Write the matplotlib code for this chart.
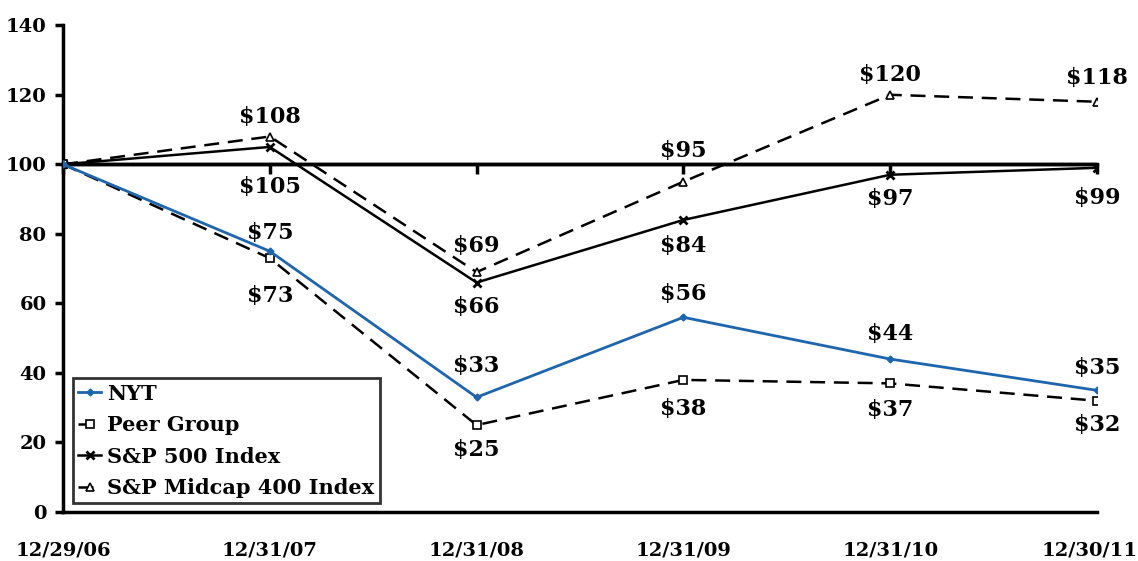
import matplotlib
matplotlib.use("Agg")
import matplotlib.pyplot as plt
from matplotlib.transforms import ScaledTranslation

plt.rcParams["font.family"] = ["DejaVu Serif"]
plt.rcParams["font.weight"] = "bold"

dates = ["12/29/06", "12/31/07", "12/31/08", "12/31/09", "12/31/10", "12/30/11"]
nyt = [100, 75, 33, 56, 44, 35]
peer = [100, 73, 25, 38, 37, 32]
sp500 = [100, 105, 66, 84, 97, 99]
midcap = [100, 108, 69, 95, 120, 118]

# label offsets in pixels (None = no label on the base point)
nyt_off = [None, 18, 31, 23, 25, 22]
peer_off = [None, -38, -25, -29, -27, -24]
sp_off = [None, -40, -24, -26, -24, -30]
mid_off = [None, 20, 26, 31, 20, 24]

BLUE = "#1f65ad"

fig = plt.figure(figsize=(11.38, 5.61), dpi=100)
ax = fig.add_axes([0.0554, 0.0873, 0.9085, 0.8677])

x = list(range(len(dates)))
dash = (0, (6, 3.5))
ax.plot(x, midcap, color="black", lw=1.8, ls=dash, marker="^", ms=6,
        mfc="white", mec="black", mew=1.2, label="S&P Midcap 400 Index", zorder=3)
ax.plot(x, sp500, color="black", lw=1.8, marker="x", ms=6, mew=2,
        label="S&P 500 Index", zorder=3)
ax.plot(x, peer, color="black", lw=1.8, ls=dash, marker="s", ms=6,
        mfc="white", mec="black", mew=1.2, label="Peer Group", zorder=3)
ax.plot(x, nyt, color=BLUE, lw=2, marker="D", ms=3.5, mfc=BLUE, mec=BLUE,
        label="NYT", zorder=4)

for vals, offs in [(nyt, nyt_off), (peer, peer_off), (sp500, sp_off), (midcap, mid_off)]:
    for xi, v, o in zip(x, vals, offs):
        if o is None:
            continue
        ax.annotate(f"${v}", (xi, v), xytext=(0, o), textcoords="offset pixels",
                    ha="center", va="center", fontsize=16, fontweight="bold")

ax.set_xlim(0, 5)
ax.set_ylim(0, 140)
ax.set_yticks(range(0, 141, 20))
ax.set_xticks(x)
ax.set_xticklabels(dates)
ax.tick_params(axis="x", length=0, pad=21, labelsize=14)
ax.tick_params(axis="y", direction="out", length=6, width=2.5, pad=6, labelsize=14)
for lab in ax.get_xticklabels() + ax.get_yticklabels():
    lab.set_fontweight("bold")
# last date label sits against the right edge of the picture
last = ax.get_xticklabels()[-1]
last.set_transform(last.get_transform() + ScaledTranslation(-0.07, 0, fig.dpi_scale_trans))
for s in ["top", "right"]:
    ax.spines[s].set_visible(False)
ax.spines["left"].set_linewidth(2.5)
ax.spines["bottom"].set_linewidth(2.5)

# the category axis crosses at 100
sec = ax.secondary_xaxis(100 / 140)
sec.set_xticks(x)
sec.tick_params(axis="x", direction="out", length=7, width=2.5, labelbottom=False,
                labeltop=False, bottom=True, top=False)
sec.spines["bottom"].set_linewidth(2.5)
sec.spines["bottom"].set_visible(True)
sec.spines["top"].set_visible(False)
ax.axhline(100, color="black", lw=2.5, zorder=2)

handles, labels = ax.get_legend_handles_labels()
order = [3, 2, 1, 0]
leg = ax.legend([handles[i] for i in order], [labels[i] for i in order],
                loc="lower left", bbox_to_anchor=(0.0097, 0.018), borderaxespad=0,
                frameon=True, fancybox=False, edgecolor="black", handlelength=1.1,
                handletextpad=0.3, borderpad=0.25, labelspacing=0.55,
                prop={"weight": "bold", "size": 15})
leg.get_frame().set_linewidth(2)

fig.savefig("out.png", dpi=100)
